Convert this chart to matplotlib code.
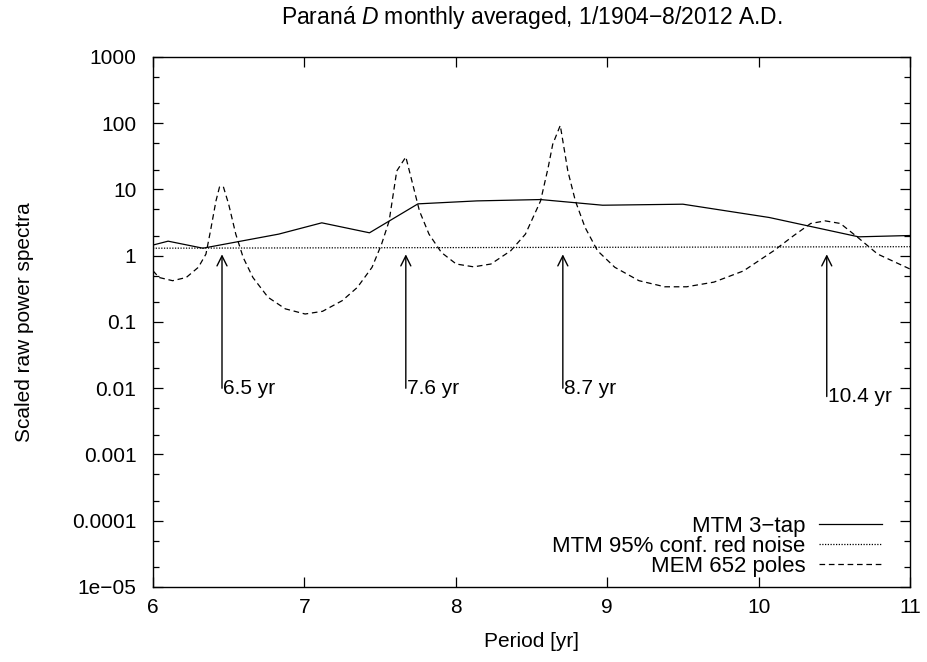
import matplotlib
matplotlib.use('Agg')
import matplotlib.pyplot as plt
import numpy as np

plt.rcParams['font.family'] = ['Liberation Sans', 'DejaVu Sans']
plt.rcParams['mathtext.fontset'] = 'custom'
plt.rcParams['mathtext.it'] = 'Liberation Sans:italic'
plt.rcParams['mathtext.rm'] = 'Liberation Sans'

# MTM 3-tap spectrum (period yr, power)
mtm_period = [6.0, 6.10, 6.33, 6.83, 7.115, 7.43, 7.75, 8.14, 8.56, 8.97, 9.50, 10.07, 10.66, 11.0]
mtm_power = [1.45, 1.66, 1.30, 2.12, 3.14, 2.22, 6.07, 6.73, 7.05, 5.79, 6.0, 3.78, 1.93, 2.02]

# MTM 95% red noise level
noise_period = [6.0, 11.0]
noise_power = [1.30, 1.37]

# MEM 652 poles
mem_period = [6.0, 6.04, 6.13, 6.22, 6.30, 6.35, 6.38, 6.416, 6.44, 6.465, 6.50, 6.547,
              6.596, 6.66, 6.76, 6.874, 7.005, 7.12, 7.25, 7.35, 7.447, 7.51, 7.56, 7.61,
              7.67, 7.71, 7.76, 7.823, 7.905, 8.003, 8.118, 8.232, 8.363, 8.46, 8.56, 8.61,
              8.64, 8.69, 8.74, 8.79, 8.854, 8.936, 9.05, 9.21, 9.38, 9.525, 9.705, 9.90,
              10.10, 10.23, 10.344, 10.44, 10.54, 10.655, 10.786, 11.0]
mem_power = [0.594, 0.47, 0.42, 0.47, 0.67, 1.06, 2.38, 6.7, 11.0, 11.0, 6.0, 2.12,
             0.94, 0.47, 0.236, 0.158, 0.132, 0.145, 0.21, 0.333, 0.67, 1.5, 3.36, 19.0,
             31.0, 13.5, 4.75, 2.12, 1.12, 0.75, 0.68, 0.75, 1.19, 2.12, 6.73, 21.4,
             48.0, 92.7, 19.0, 6.7, 2.67, 1.19, 0.67, 0.42, 0.34, 0.34, 0.40, 0.59,
             1.19, 2.0, 3.07, 3.36, 3.07, 1.89, 1.06, 0.63]

# marked peaks
peak_x = [6.456, 7.67, 8.707, 10.45]
peak_labels = ['6.5 yr', '7.6 yr', '8.7 yr', '10.4 yr']
peak_base = [0.01, 0.01, 0.01, 0.0075]

ytick_vals = [1e-5, 1e-4, 1e-3, 1e-2, 0.1, 1, 10, 100, 1000]
ytick_labels = ['1e\u221205', '0.0001', '0.001', '0.01', '0.1', '1', '10', '100', '1000']

fs = 15

fig = plt.figure(figsize=(9.27, 6.62), dpi=100)
ax = fig.add_axes([0.165, 0.1133, 0.8167, 0.8006])

ax.plot(mtm_period, mtm_power, color='black', lw=0.9, label='MTM 3\u2212tap')
ax.plot(noise_period, noise_power, color='black', lw=0.9, linestyle=(0, (1, 1.2)),
        label='MTM 95% conf. red noise')
ax.plot(mem_period, mem_power, color='black', lw=0.9, linestyle=(0, (4.5, 3)),
        label='MEM 652 poles')

for x, lab, b in zip(peak_x, peak_labels, peak_base):
    ax.annotate('', xy=(x, 1.05), xytext=(x, b),
                arrowprops=dict(arrowstyle='->', color='black', lw=1.0,
                                shrinkA=0, shrinkB=0, mutation_scale=18))
    ax.text(x + 0.005, b, lab, ha='left', va='center', fontsize=fs)

ax.set_yscale('log')
ax.set_xlim(6, 11)
ax.set_ylim(1e-5, 1000)
ax.set_xticks([6, 7, 8, 9, 10, 11])
ax.set_xticklabels(['6', '7', '8', '9', '10', '11'])
ax.set_yticks(ytick_vals)
ax.set_yticklabels(ytick_labels)
minors = [m * 10.0**e for e in range(-5, 3) for m in (2, 5)]
ax.set_yticks(minors, minor=True)
ax.yaxis.set_minor_formatter(matplotlib.ticker.NullFormatter())
ax.tick_params(which='both', direction='in', top=True, right=True, labelsize=fs, width=0.9)
ax.tick_params(which='major', length=7)
ax.tick_params(axis='x', which='major', pad=8)
ax.tick_params(axis='y', which='major', pad=12)
ax.tick_params(which='minor', length=4)
for s in ax.spines.values():
    s.set_linewidth(1.0)

ax.set_xlabel('Period [yr]', fontsize=fs, labelpad=11)
ax.set_ylabel('Scaled raw power spectra', fontsize=fs, labelpad=27)
ax.set_title('Paran\u00e1 $D$ monthly averaged, 1/1904\u22128/2012 A.D.', fontsize=16.5, pad=24)

leg = ax.legend(loc='lower right', frameon=False, markerfirst=False, fontsize=16,
                handlelength=2.85, handletextpad=0.6, labelspacing=-0.05,
                borderpad=0, borderaxespad=0,
                bbox_to_anchor=(1 - 28 / 757, 10 / 530))

fig.savefig('out.png', dpi=100)
